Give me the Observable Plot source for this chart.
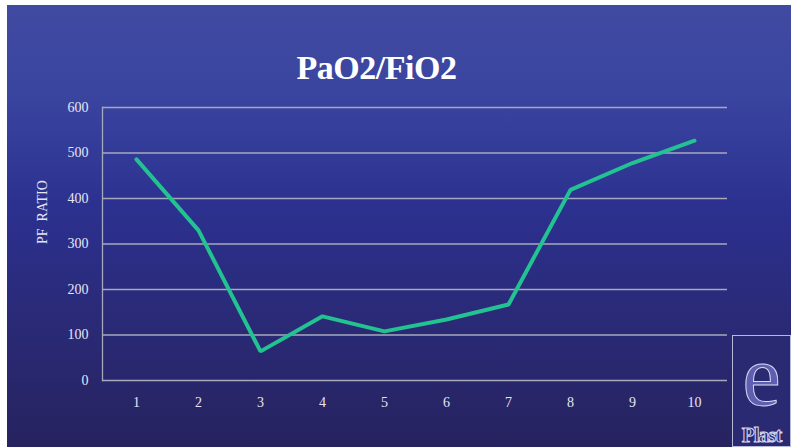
<!DOCTYPE html>
<html>
<head>
<meta charset="utf-8">
<script src="https://cdn.jsdelivr.net/npm/d3@7"></script>
<script src="https://cdn.jsdelivr.net/npm/@observablehq/plot@0.6"></script>
<style>
  html, body { margin: 0; padding: 0; background: #ffffff; }
  #wrap {
    position: absolute; left: 7px; top: 5px; width: 784px; height: 442px;
    background: linear-gradient(to bottom, #404aa0 0%, #3a45a0 20%, #2c3190 45%, #2a2a78 70%, #27235f 100%);
    overflow: hidden;
  }
  #title {
    position: absolute; left: 0; top: 44px; width: 739px; text-align: center;
    font-family: "Liberation Serif", "DejaVu Serif", serif; font-weight: bold;
    font-size: 34px; color: #ffffff; letter-spacing: -0.5px;
  }
  #chart { position: absolute; left: 0; top: 0; }
  #logo {
    position: absolute; left: 725px; top: 330px; width: 59px; height: 112px;
    border: 1px solid #b8b8d8; background: #2a2a72; box-sizing: border-box;
  }
  #logo .e {
    position: absolute; left: 0; top: 4px; width: 57px; text-align: center;
    font-family: "Liberation Serif", serif; font-size: 86px; line-height: 72px; color: #5e5fb0;
    -webkit-text-stroke: 1px #d8d8f0;
  }
  #logo .p {
    position: absolute; left: 0; bottom: 0px; width: 57px; text-align: center;
    font-family: "Liberation Serif", serif; font-weight: bold; font-size: 21px;
    color: #2a2a72; -webkit-text-stroke: 1px #d8d8f0; letter-spacing: -1px; line-height: 22px;
  }
</style>
</head>
<body>
<div id="wrap">
  <div id="chart"></div>
  <div id="title">PaO2/FiO2</div>
  <div id="logo"><div class="e">e</div><div class="p">Plast</div></div>
</div>
<script>
const days = [1, 2, 3, 4, 5, 6, 7, 8, 9, 10];
const pfRatio = [486, 330, 64, 141, 108, 134, 167, 419, 478, 527];
const yTicks = [0, 100, 200, 300, 400, 500, 600];
const yLabel = "PF  RATIO";

const data = days.map((d, i) => ({day: d, value: pfRatio[i]}));

const chart = Plot.plot({
  width: 784,
  height: 442,
  marginLeft: 95,
  marginRight: 64,
  marginTop: 102,
  marginBottom: 67,
  style: {background: "transparent", color: "#e6e6f2", fontFamily: "'Liberation Serif', serif", fontSize: "14px"},
  x: {type: "point", domain: days, padding: 0.5, label: null, tickSize: 0, tickPadding: 17},
  y: {domain: [0, 600], ticks: yTicks, label: null, tickSize: 0, tickPadding: 14},
  marks: [
    Plot.ruleY(yTicks, {stroke: "#a8a8bc", strokeWidth: 1.3}),
    Plot.frame({anchor: "left", stroke: "#a8a8bc", strokeWidth: 1.3}),
    Plot.line(data, {x: "day", y: "value", stroke: "#22c291", strokeWidth: 4, strokeLinejoin: "miter"}),
    Plot.text([yLabel], {frameAnchor: "left", dx: -60, rotate: -90, fill: "#e6e6f2", fontSize: 14, text: d => d})
  ]
});
document.getElementById("chart").appendChild(chart);
</script>
</body>
</html>
